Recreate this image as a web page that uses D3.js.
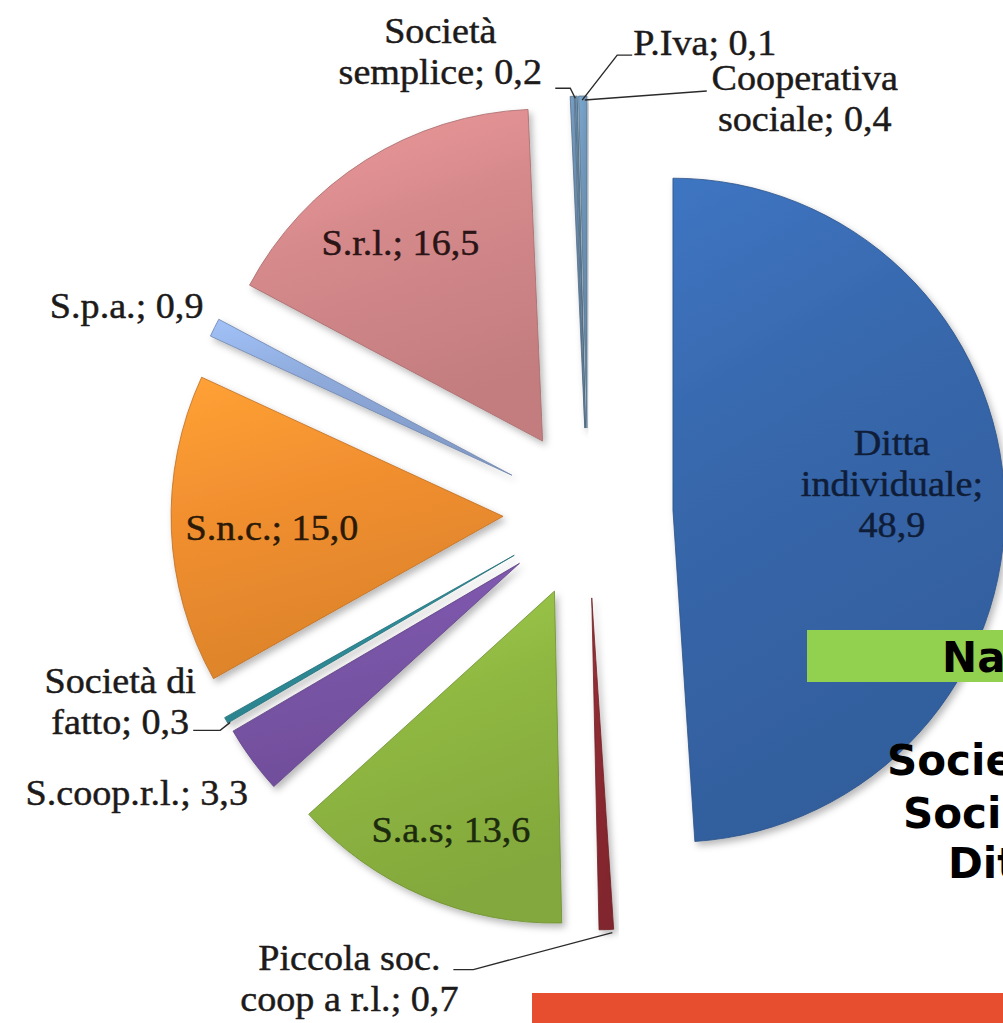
<!DOCTYPE html>
<html>
<head>
<meta charset="utf-8">
<script src="https://cdn.jsdelivr.net/npm/d3@7"></script>
<style>
  html, body { margin: 0; padding: 0; background: #fff; overflow: hidden; }
  svg { display: block; }
</style>
</head>
<body>
<svg id="chart" width="1003" height="1023"></svg>
<script>
(function(){

	// data, clockwise from 12 o'clock
	var categories = ["Ditta individuale", "Piccola soc. coop a r.l.", "S.a.s", "S.coop.r.l.", "Società di fatto",
		"S.n.c.", "S.p.a.", "S.r.l.", "Società semplice", "P.Iva", "Cooperativa sociale"];
	var values = [48.9, 0.7, 13.6, 3.3, 0.3, 15.0, 0.9, 16.5, 0.2, 0.1, 0.4];
	// label text, {v} gets the value
	var labelLines = [
		["Ditta", "individuale;", "{v}"],
		["Piccola soc.", "coop a r.l.; {v}"],
		["S.a.s; {v}"],
		["S.coop.r.l.; {v}"],
		["Società di", "fatto; {v}"],
		["S.n.c.; {v}"],
		["S.p.a.; {v}"],
		["S.r.l.; {v}"],
		["Società", "semplice; {v}"],
		["P.Iva; {v}"],
		["Cooperativa", "sociale; {v}"]
	];
	var sliceColors = ["#3767ab", "#8d2a31", "#8fb842", "#7a55a8", "#2f8e9a", "#f18f2f",
		"#8eaadb", "#d5898b", "#6a8cae", "#5f86a6", "#6d93b6"];

	// slide elements around the chart
	var slideLines = ["Socie", "Soci", "Dit"];
	var slideTitle = "Na";

	var cx = 588, cy = 513, radius = 332, explode = 85;
	var lineH = 41, fontSize = 36, stretch = 1.06;
	var serif = "'Liberation Serif', 'Times New Roman', serif";

	// label placement: inside -> radius factor + angle nudge (deg), outside -> offsets from the slice rim
	var labelLayout = {
		"Ditta individuale": { inside: true, r: 0.664, da: -4.8, color: "#0f1d38" },
		"S.a.s": { inside: true, r: 0.784, da: 0.2, color: "#1c2a0e" },
		"S.n.c.": { inside: true, r: 0.697, da: -0.6, color: "#2b1a08" },
		"S.r.l.": { inside: true, r: 0.735, da: -3.4, color: "#2b1415" },
		"Piccola soc. coop a r.l.": { dx: -257, dy: 40, anchor: "middle", leader: [[6,3],[-133,40],[-153,40]] },
		"S.coop.r.l.": { dx: -4, dy: 45, anchor: "end" },
		"Società di fatto": { dx: -106, dy: -27, anchor: "middle", leader: [[4,2],[-6,10],[-33,10]] },
		"S.p.a.": { dx: -11, dy: -10, anchor: "end" },
		"Società semplice": { dx: -132, dy: -53, anchor: "middle", leader: [[3,2],[-2,-8],[-17,-8]] },
		"P.Iva": { dx: 57, dy: -41, anchor: "start", leader: [[6,4],[41,-41],[56,-41]] },
		"Cooperativa sociale": { dx: 222, dy: -6, anchor: "middle", leader: [[2,4],[124,-5]] }
	};

	var fmt = function(v){ return d3.format(".1f")(v).replace(".", ","); };

	var svg = d3.select("#chart");
	var defs = svg.append("defs");

	var shadow = defs.append("filter").attr("id", "shadow")
		.attr("x", "-20%").attr("y", "-20%").attr("width", "140%").attr("height", "140%");
	shadow.append("feDropShadow").attr("dx", 3).attr("dy", 4).attr("stdDeviation", 3.5)
		.attr("flood-color", "#000").attr("flood-opacity", 0.28);

	sliceColors.forEach(function(c, i){
		var g = defs.append("linearGradient").attr("id", "grad" + i)
			.attr("x1", 0).attr("y1", 0).attr("x2", 0.3).attr("y2", 1);
		g.append("stop").attr("offset", "0%").attr("stop-color", d3.color(c).brighter(0.35));
		g.append("stop").attr("offset", "45%").attr("stop-color", c);
		g.append("stop").attr("offset", "100%").attr("stop-color", d3.color(c).darker(0.25));
	});

	var slices = categories.map(function(name, i){
		return { name: name, value: values[i], index: i };
	});

	var pie = d3.pie().sort(null).value(function(d){ return d.value; });
	var arcs = pie(slices);

	var arc = d3.arc().innerRadius(0).outerRadius(radius);
	var rim = d3.arc().innerRadius(radius).outerRadius(radius);

	function offsetOf(d){
		var m = (d.startAngle + d.endAngle) / 2;
		return [Math.sin(m) * explode, -Math.cos(m) * explode];
	}

	var chart = svg.append("g").attr("transform", "translate(" + cx + "," + cy + ")");

	chart.selectAll("path.slice").data(arcs).enter().append("path")
		.attr("class", "slice")
		.attr("transform", function(d){ return "translate(" + offsetOf(d) + ")"; })
		.attr("d", arc)
		.attr("fill", function(d){ return "url(#grad" + d.data.index + ")"; })
		.attr("stroke", function(d){ return d3.color(sliceColors[d.data.index]).darker(0.7); })
		.attr("stroke-width", 0.8)
		.attr("stroke-linejoin", "round")
		.attr("filter", "url(#shadow)");

	function textOf(d){
		return labelLines[d.data.index].map(function(s){ return s.replace("{v}", fmt(d.value)); });
	}

	function drawLines(g, lines, x, y0, anchor, color){
		lines.forEach(function(s, k){
			g.append("text")
				.attr("transform", "translate(" + x + "," + (y0 + k * lineH) + ") scale(" + stretch + ",1)")
				.attr("text-anchor", anchor)
				.attr("font-family", serif)
				.attr("font-size", fontSize)
				.attr("fill", color)
				.attr("stroke", color)
				.attr("stroke-width", 0.45)
				.text(s);
		});
	}

	var labels = chart.append("g");

	arcs.forEach(function(d){
		var lay = labelLayout[d.data.name];
		var off = offsetOf(d);
		var lines = textOf(d);
		if (lay.inside) {
			var a = (d.startAngle + d.endAngle) / 2 + lay.da * Math.PI / 180;
			var r = lay.r * radius;
			var p = d3.arc().innerRadius(r).outerRadius(r).centroid({ startAngle: a, endAngle: a });
			var x = off[0] + p[0], y = off[1] + p[1];
			var y0 = y - (lines.length - 1) / 2 * lineH + 0.33 * fontSize;
			drawLines(labels, lines, x, y0, "middle", lay.color);
		} else {
			var o = rim.centroid(d);
			var ox = off[0] + o[0], oy = off[1] + o[1];
			if (lay.leader) {
				labels.append("polyline")
					.attr("points", lay.leader.map(function(q){ return [ox + q[0], oy + q[1]]; }).join(" "))
					.attr("fill", "none")
					.attr("stroke", "#2a2a2a")
					.attr("stroke-width", 1.4);
			}
			drawLines(labels, lines, ox + lay.dx, oy + lay.dy, lay.anchor, "#1d1a1a");
		}
	});

	// pieces of the slide that overlap the chart, cut by the frame
	var slide = svg.append("g").attr("font-family", "'DejaVu Sans', Verdana, sans-serif")
		.attr("font-weight", "bold").attr("font-size", 42).attr("fill", "#000");

	slide.append("rect").attr("x", 807).attr("y", 630).attr("width", 200).attr("height", 52)
		.attr("fill", "#92d050");
	slide.append("text").attr("x", 942).attr("y", 672).text(slideTitle);

	var lineX = [887, 903, 948], lineY = [775, 828, 878];
	slide.selectAll("text.body").data(slideLines).enter().append("text")
		.attr("class", "body")
		.attr("x", function(d, i){ return lineX[i]; })
		.attr("y", function(d, i){ return lineY[i]; })
		.text(function(d){ return d; });

	slide.append("rect").attr("x", 532).attr("y", 993).attr("width", 475).attr("height", 32)
		.attr("fill", "#e64e2f");

})();
</script>
</body>
</html>
